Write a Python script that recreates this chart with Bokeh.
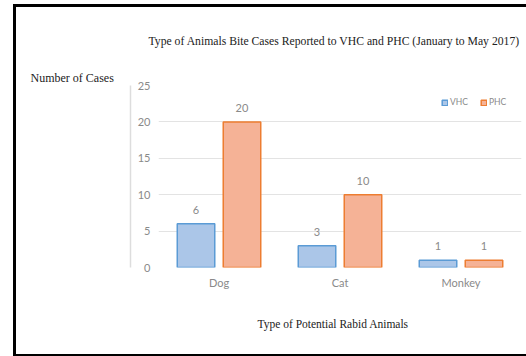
from bokeh.plotting import figure
from bokeh.models import (ColumnDataSource, FactorRange, LabelSet, Legend, LegendItem, Range1d,
                          Title, LinearAxis)
from bokeh.transform import dodge
from bokeh.core.properties import value
from bokeh.embed import file_html
from bokeh.resources import INLINE

animals = ["Dog", "Cat", "Monkey"]
vhc = [6, 3, 1]
phc = [20, 10, 1]
y_ticks = [0, 5, 10, 15, 20, 25]
title_text = "Type  of Animals Bite Cases Reported to VHC and PHC (January to May  2017)"
y_title = "Number of Cases"
x_title = "Type  of Potential Rabid Animals"

src = ColumnDataSource(dict(
    animal=animals, vhc=vhc, phc=phc,
    vhc_lbl=[str(v) for v in vhc], phc_lbl=[str(v) for v in phc],
))

p = figure(x_range=FactorRange(*animals), y_range=Range1d(0, 25), title=None,
           width=510, height=347, output_backend="svg", toolbar_location=None,
           min_border_left=142, min_border_right=5, min_border_top=78, min_border_bottom=87)
p.margin = (7, 0, 0, 16)
p.styles = {"box-shadow": "-3px 0 0 0 black, 0 -3px 0 0 black, 0 3px 0 0 black, "
                          "-3px -3px 0 0 black, -3px 3px 0 0 black",
            "clip-path": "inset(-4px 0px -4px -4px)"}
p.outline_line_color = None
p.background_fill_color = "white"
p.border_fill_color = "white"

blue_fill, blue_line = "#abc6e8", "#5b9bd5"
orange_fill, orange_line = "#f5b296", "#ed7d31"

r1 = p.vbar(x=dodge("animal", -0.19, range=p.x_range), top="vhc", width=0.31, source=src,
            fill_color=blue_fill, line_color=blue_line, line_width=1.5)
r2 = p.vbar(x=dodge("animal", 0.19, range=p.x_range), top="phc", width=0.31, source=src,
            fill_color=orange_fill, line_color=orange_line, line_width=1.5)

for col, off in (("vhc", -0.19), ("phc", 0.19)):
    p.add_layout(LabelSet(x=dodge("animal", off, range=p.x_range), y=col, text=col + "_lbl",
                          source=src, text_align="center", text_baseline="bottom", y_offset=10,
                          text_font=value("Lato"), text_font_size="11px", text_color="#8a8a8a"))

p.yaxis.ticker = y_ticks
for ax in (p.xaxis, p.yaxis):
    ax.axis_line_color = None
    ax.major_tick_line_color = None
    ax.minor_tick_line_color = None
    ax.major_tick_out = 0
    ax.major_tick_in = 0
    ax.minor_tick_out = 0
    ax.major_label_text_font = "Lato"
    ax.major_label_text_font_size = "11px"
    ax.major_label_text_color = "#8a8a8a"
p.yaxis.major_label_standoff = 8
p.yaxis.axis_label = " "
p.yaxis.axis_label_text_font_size = "1px"
p.yaxis.axis_label_standoff = 0
p.xaxis.major_label_standoff = 8
p.xgrid.grid_line_color = None
p.ygrid.grid_line_color = "#e3e3e3"
p.x_range.range_padding = 0
p.x_range.group_padding = 0

# light vertical plot-area edge
edge = LinearAxis(bounds=(-5.2, 27.3), axis_line_color="#dddddd", axis_line_width=1.5,
                  major_tick_line_color=None, minor_tick_line_color=None,
                  major_tick_out=0, major_tick_in=0, minor_tick_out=0,
                  major_label_text_font_size="0px", ticker=[])
p.add_layout(edge, "left")

legend = Legend(items=[LegendItem(label="VHC", renderers=[r1]), LegendItem(label="PHC", renderers=[r2])],
                orientation="horizontal", location="top_right",
                glyph_width=7, glyph_height=7, label_text_font="Lato", label_text_font_size="8.5px",
                label_text_color="#8a8a8a", label_standoff=2, spacing=10, padding=0, margin=12,
                border_line_color=None, background_fill_alpha=0)
p.add_layout(legend)

p.add_layout(Title(text=y_title, align="left", offset=-128, standoff=2,
                   text_font="Liberation Serif", text_font_size="12px",
                   text_font_style="normal", text_color="#222222"), "above")
p.add_layout(Title(text=title_text, align="left", offset=-10, standoff=39,
                   text_font="Liberation Serif", text_font_size="11.7px",
                   text_font_style="normal", text_color="#222222"), "above")
p.add_layout(Title(text=x_title, align="left", offset=99, standoff=48,
                   text_font="Liberation Serif", text_font_size="11.5px",
                   text_font_style="normal", text_color="#222222"), "below")

open("out.html", "w").write(file_html(p, INLINE))
